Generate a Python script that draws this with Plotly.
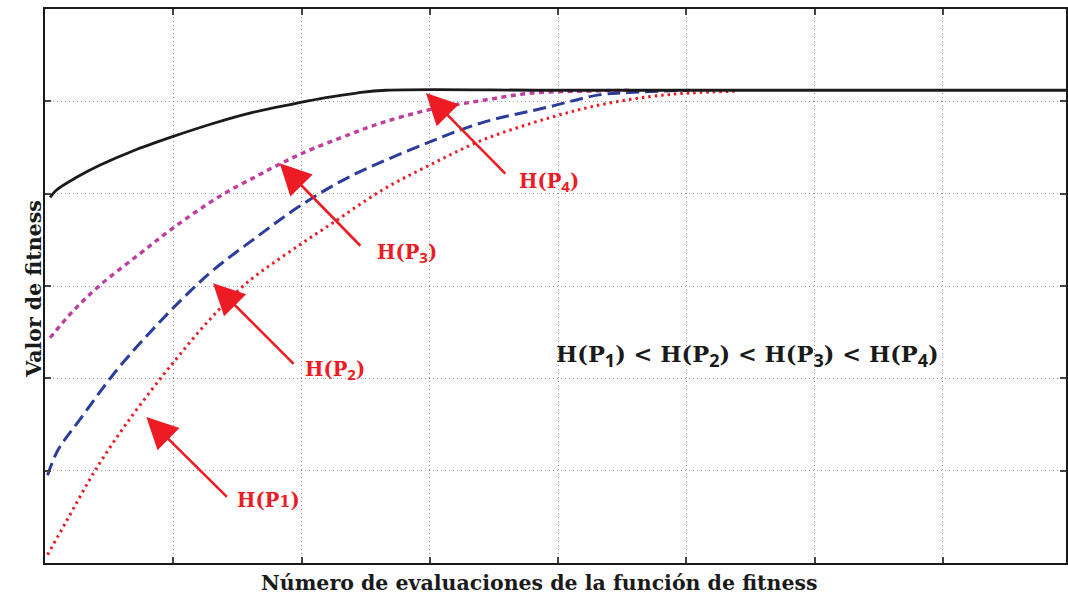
import plotly.graph_objects as go

# ---- data (units = grid cells) ----
x_p4 = [0.04, 0.09, 0.25, 0.43, 0.68, 1.00, 1.31, 1.62, 1.93, 2.19, 2.43, 2.66, 4.0, 6.0, 7.96]
y_p4 = [3.96, 4.04, 4.18, 4.31, 4.46, 4.62, 4.76, 4.88, 4.97, 5.04, 5.09, 5.12, 5.12, 5.12, 5.12]

x_p3 = [0.04, 0.22, 0.43, 0.74, 1.00, 1.36, 1.65, 1.83, 2.01, 2.37, 2.63, 3.00, 3.41, 3.80, 4.19, 4.55]
y_p3 = [2.44, 2.73, 3.01, 3.35, 3.63, 3.97, 4.19, 4.32, 4.44, 4.64, 4.77, 4.91, 5.01, 5.09, 5.11, 5.12]

x_p2 = [0.02, 0.10, 0.27, 0.56, 0.82, 1.07, 1.31, 1.65, 1.98, 2.37, 3.00, 3.41, 3.93, 4.32, 4.63, 5.02]
y_p2 = [0.95, 1.22, 1.55, 2.09, 2.50, 2.86, 3.17, 3.53, 3.86, 4.18, 4.56, 4.77, 4.94, 5.07, 5.10, 5.12]

x_p1 = [0.02, 0.17, 0.39, 0.64, 0.89, 1.00, 1.26, 1.57, 1.98, 2.24, 2.63, 3.00, 3.41, 3.93, 4.32, 4.71, 5.02, 5.41]
y_p1 = [0.09, 0.46, 1.00, 1.52, 1.98, 2.17, 2.60, 3.03, 3.44, 3.68, 4.04, 4.31, 4.58, 4.82, 4.96, 5.05, 5.09, 5.11]

SUB = "<sub><span style='font-family:Open Sans;font-size:15px'>%s</span></sub>"
labels = ["H(P<span style='font-size:16px'>1</span>)", "H(P" + SUB % "2" + ")",
          "H(P" + SUB % "3" + ")", "H(P" + SUB % "4" + ")"]
arrow_tips = [(0.79, 1.58), (1.31, 3.03), (1.83, 4.33), (2.97, 5.09)]
arrow_tails = [(1.43, 0.70), (1.95, 2.14), (2.47, 3.42), (3.60, 4.20)]
label_pos = [(1.74, 0.68), (2.26, 2.08), (2.82, 3.35), (3.93, 4.12)]

RED = "#ED1C24"
SERIF = "DejaVu Serif, serif"

fig = go.Figure()
fig.add_trace(go.Scatter(x=x_p1, y=y_p1, mode="lines",
                         line=dict(color=RED, width=3, dash="2.5px,4px", shape="spline", smoothing=1.0)))
fig.add_trace(go.Scatter(x=x_p2, y=y_p2, mode="lines",
                         line=dict(color="#2B3D9C", width=3, dash="13px,6px", shape="spline", smoothing=1.0)))
fig.add_trace(go.Scatter(x=x_p3, y=y_p3, mode="lines",
                         line=dict(color="#C03C9E", width=3.4, dash="5px,4.5px", shape="spline", smoothing=1.0)))
fig.add_trace(go.Scatter(x=x_p4, y=y_p4, mode="lines",
                         line=dict(color="#1A1A1A", width=2.8, shape="spline", smoothing=1.0)))

ann = []
for (tx, ty), (ax, ay) in zip(arrow_tips, arrow_tails):
    ann.append(dict(x=tx, y=ty, ax=ax, ay=ay, xref="x", yref="y", axref="x", ayref="y",
                    text="", showarrow=True, arrowhead=2, arrowsize=2.4, arrowwidth=2.6,
                    arrowcolor=RED, standoff=0))
for lab, (lx, ly) in zip(labels, label_pos):
    ann.append(dict(x=lx, y=ly, xref="x", yref="y", text="<b>" + lab + "</b>", showarrow=False,
                    font=dict(family=SERIF, size=19.5, color=RED)))
BSUB = "<sub><span style='font-family:Open Sans;font-size:18px'>%s</span></sub>"
ineq = " &lt; ".join("H(P" + BSUB % i + ")" for i in ["1", "2", "3", "4"])
ann.append(dict(x=5.48, y=2.24, xref="x", yref="y", text="<b>" + ineq + "</b>",
                showarrow=False, font=dict(family=SERIF, size=22.5, color="#1A1A1A")))
ann.append(dict(x=0.484, y=-0.036, xref="paper", yref="paper", yanchor="middle",
                text="<b>Número de evaluaciones de la función de fitness</b>", showarrow=False,
                font=dict(family=SERIF, size=20.5, color="#1A1A1A")))
ann.append(dict(x=-0.0244, y=0.495, xref="paper", yref="paper", textangle=-90,
                text="<b>Valor de fitness</b>", showarrow=False,
                font=dict(family=SERIF, size=20.5, color="#1A1A1A")))

axis_common = dict(showticklabels=False, ticks="inside", ticklen=6, tickcolor="#444", tickwidth=1.5,
                   showgrid=True, gridcolor="#999999", griddash="1px,3px", gridwidth=1,
                   showline=True, linecolor="#1A1A1A", linewidth=2, mirror="ticks", zeroline=False,
                   dtick=1, tick0=0)

fig.update_layout(
    width=1068, height=598, autosize=False,
    margin=dict(l=45, r=0, t=9, b=35),
    paper_bgcolor="white", plot_bgcolor="white",
    showlegend=False,
    annotations=ann,
    xaxis=dict(range=[0, 7.96], **axis_common),
    yaxis=dict(range=[0, 6], **axis_common),
)

fig.write_html("out.html")
